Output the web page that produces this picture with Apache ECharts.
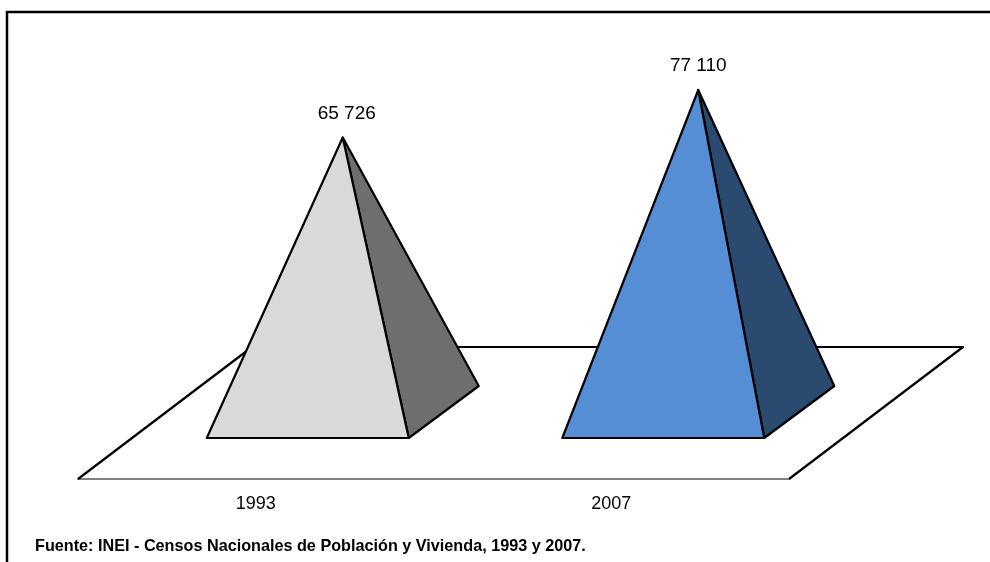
<!DOCTYPE html>
<html><head><meta charset="utf-8">
<style>html,body{margin:0;padding:0;background:#fff}#c{width:990px;height:562px}</style>
<script src="https://cdn.jsdelivr.net/npm/echarts@6/dist/echarts.min.js"></script>
</head><body><div id="c"></div>
<script>
const categories = ['1993', '2007'];
const values = [65726, 77110];
const frontColors = ['#d9d9d9', '#558ed5'];
const sideColors = ['#6e6e6e', '#2a4a70'];
const footer = 'Fuente: INEI - Censos Nacionales de Población y Vivienda, 1993 y 2007.';

const FONT = '"Liberation Sans", Arial, sans-serif';
const fmt = v => String(v).replace(/\B(?=(\d{3})+$)/g, ' ');
const stroke = { stroke: '#000', lineWidth: 2.2, lineJoin: 'round' };

function renderFloor(params, api) {
  const cs = params.coordSys;
  const y = cs.y + cs.height, x0 = cs.x, x1 = cs.x + cs.width;
  return { type: 'polyline', silent: true, shape: { points: [[x1, y], [x1 + 174, y - 132], [x0 + 174, y - 132], [x0, y]] },
    style: { fill: null, ...stroke } };
}
function renderPyramid(params, api) {
  const i = api.value(0);
  const base = api.coord([i, 0]);
  const top = api.coord([i, api.value(1)]);
  const fl = [base[0] - 49, base[1] - 41], fr = [base[0] + 153, base[1] - 41], br = [base[0] + 223, base[1] - 93];
  const apex = [base[0] + 87, top[1] - 67];
  return { type: 'group', children: [
    { type: 'polygon', shape: { points: [fr, br, apex] }, style: { fill: sideColors[i], ...stroke } },
    { type: 'polygon', shape: { points: [fl, fr, apex] }, style: { fill: frontColors[i], ...stroke } },
    { type: 'text', style: { x: apex[0] + (i === 0 ? 4 : 0), y: apex[1] - 24, text: fmt(api.value(1)), fill: '#000',
      font: '19px ' + FONT, align: 'center', verticalAlign: 'middle' } }
  ] };
}
const chart = echarts.init(document.getElementById('c'), null, { renderer: 'canvas' });
chart.setOption({
  animation: false,
  backgroundColor: '#fff',
  grid: { left: 78, top: 61.4, width: 711, height: 417.6 },
  xAxis: { type: 'category', data: categories,
    axisLine: { lineStyle: { color: '#808080', width: 2 } }, axisTick: { show: false },
    axisLabel: { color: '#000', fontFamily: FONT, fontSize: 18, margin: 16 } },
  yAxis: { type: 'value', min: 0, max: 100000, show: false, splitLine: { show: false } },
  series: [
    { type: 'custom', coordinateSystem: 'cartesian2d', clip: false, z: 1, renderItem: renderFloor, data: [[0, 0]], silent: true },
    { type: 'custom', coordinateSystem: 'cartesian2d', clip: false, z: 3, renderItem: renderPyramid,
      data: values.map((v, i) => [i, v]), encode: { x: 0, y: 1 }, silent: true }
  ],
  graphic: [
    { type: 'polyline', silent: true, shape: { points: [[7, 562], [7, 12], [990, 12]] },
      style: { fill: null, stroke: '#000', lineWidth: 2.5 } },
    { type: 'text', silent: true, x: 35, y: 546, scaleX: 0.953,
      style: { x: 0, y: 0, text: footer, fill: '#000', font: 'bold 17px ' + FONT, verticalAlign: 'middle' } }
  ]
});
</script></body></html>
